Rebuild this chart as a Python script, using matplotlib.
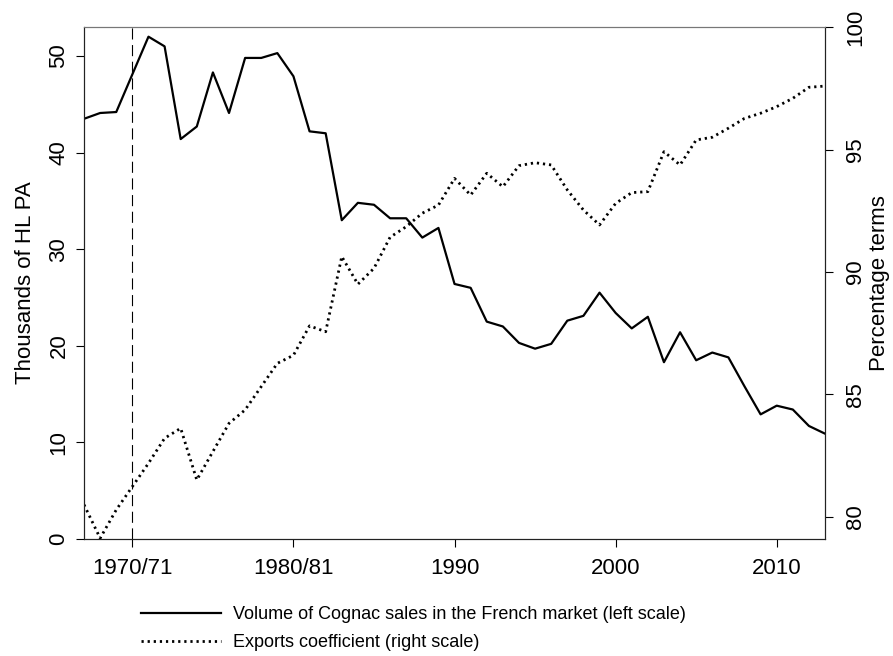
import matplotlib
matplotlib.use("Agg")
import matplotlib.pyplot as plt

plt.rcParams['font.family'] = ['Liberation Sans', 'DejaVu Sans']

# years of the series
years = list(range(1967, 2014))

# volume of Cognac sales in the French market, thousands of HL PA (left scale)
sales_france = [43.5, 44.1, 44.2, 48.1, 52.0, 51.0, 41.4, 42.7, 48.3, 44.1,
                49.8, 49.8, 50.3, 47.9, 42.2, 42.0, 33.0, 34.8, 34.6, 33.2,
                33.2, 31.2, 32.2, 26.4, 26.0, 22.5, 22.0, 20.3, 19.7, 20.2,
                22.6, 23.1, 25.5, 23.4, 21.8, 23.0, 18.3, 21.4, 18.5, 19.3,
                18.8, 15.8, 12.9, 13.8, 13.4, 11.7, 10.9]

# exports coefficient, percent (right scale)
exports_coef = [80.5, 79.13, 80.29, 81.24, 82.19, 83.21, 83.62, 81.51, 82.67, 83.82,
                84.37, 85.32, 86.27, 86.6, 87.8, 87.56, 90.63, 89.50, 90.15, 91.42,
                91.85, 92.40, 92.73, 93.82, 93.14, 94.03, 93.48, 94.34, 94.46, 94.37,
                93.35, 92.53, 91.92, 92.80, 93.24, 93.28, 94.91, 94.37, 95.39, 95.50,
                95.87, 96.27, 96.48, 96.75, 97.09, 97.54, 97.59]

xtick_pos = [1970, 1980, 1990, 2000, 2010]
xtick_labels = ['1970/71', '1980/81', '1990', '2000', '2010']

fig = plt.figure(figsize=(8.93, 6.56), dpi=100)
ax = fig.add_axes([0.0941, 0.1784, 0.8298, 0.7804])
ax2 = ax.twinx()

l1, = ax.plot(years, sales_france, color='black', lw=1.6,
              label='Volume of Cognac sales in the French market (left scale)')
l2, = ax2.plot(years, exports_coef, color='black', lw=2.0, linestyle=(0, (0.8, 1.4)),
               label='Exports coefficient (right scale)')
ax.axvline(1970, color='black', lw=0.8, linestyle=(0, (10, 5)))

ax.set_xlim(1967, 2013)
ax.set_ylim(0, 53)
ax2.set_ylim(79.1, 100)

ax.set_xticks(xtick_pos)
ax.set_xticklabels(xtick_labels)
ax.set_yticks([0, 10, 20, 30, 40, 50])
ax2.set_yticks([80, 85, 90, 95, 100])

for a in (ax, ax2):
    a.tick_params(labelsize=16, length=5.5, width=0.8, direction='out')
    for s in a.spines.values():
        s.set_linewidth(0.8)
        s.set_color('#222222')
    a.spines['top'].set_color('#777777')
ax.tick_params(axis='x', pad=8)
ax.tick_params(axis='y', pad=5)
ax2.tick_params(axis='y', pad=9)
for lab in ax.get_yticklabels() + ax2.get_yticklabels():
    lab.set_rotation(90)
    lab.set_va('center')

ax.set_ylabel('Thousands of HL PA', fontsize=16, labelpad=9)
ax2.set_ylabel('Percentage terms', fontsize=16, labelpad=2)

fig.legend(handles=[l1, l2], loc='upper left', bbox_to_anchor=(0.150, 0.087),
           frameon=False, fontsize=13, handlelength=4.4, handletextpad=0.7,
           labelspacing=0.6, borderaxespad=0)

fig.savefig('out.png', dpi=100)
